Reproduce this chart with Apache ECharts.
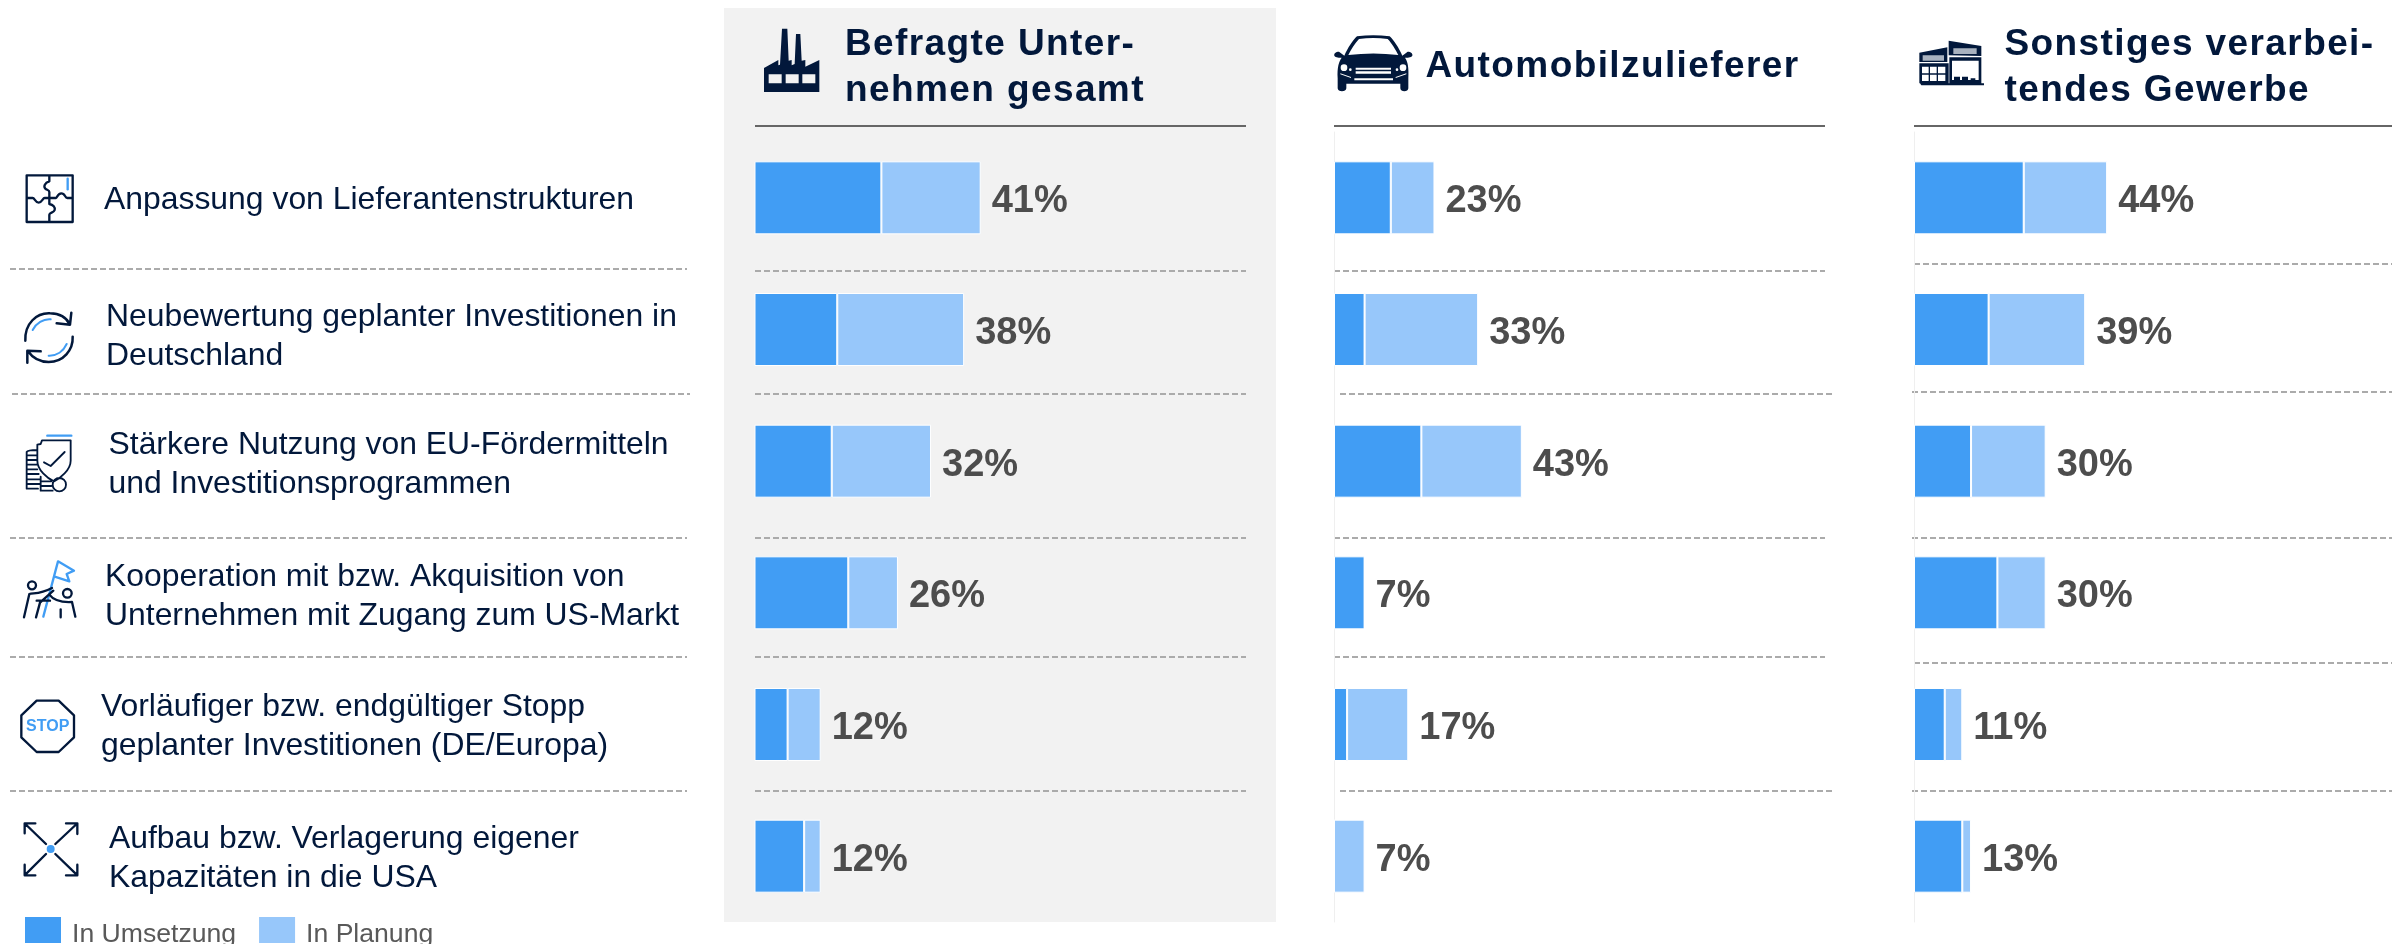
<!DOCTYPE html>
<html lang="de">
<head>
<meta charset="utf-8">
<title>Reaktionen auf US-Zölle</title>
<style>html,body{margin:0;padding:0;background:#fff}#chart{width:2392px;height:944px}</style>
<script src="https://cdn.jsdelivr.net/npm/echarts@6/dist/echarts.min.js"></script>
</head>
<body>
<div id="chart"></div>
<script>
// ---------- data ----------
const categories = [
  'Anpassung von Lieferantenstrukturen',
  'Neubewertung geplanter Investitionen in\nDeutschland',
  'Stärkere Nutzung von EU-Fördermitteln\nund Investitionsprogrammen',
  'Kooperation mit bzw. Akquisition von\nUnternehmen mit Zugang zum US-Markt',
  'Vorläufiger bzw. endgültiger Stopp\ngeplanter Investitionen (DE/Europa)',
  'Aufbau bzw. Verlagerung eigener\nKapazitäten in die USA'
];
const seriesNames = ['In Umsetzung', 'In Planung'];
const groupTitles = ['Befragte Unter-\nnehmen gesamt', 'Automobilzulieferer', 'Sonstiges verarbei-\ntendes Gewerbe'];

const gesamtUmsetzung = [23, 15, 14, 17, 6, 9];
const gesamtPlanung   = [18, 23, 18, 9, 6, 3];
const gesamtTotal     = [41, 38, 32, 26, 12, 12];

const autoUmsetzung = [13, 7, 20, 7, 3, 0];
const autoPlanung   = [10, 26, 23, 0, 14, 7];
const autoTotal     = [23, 33, 43, 7, 17, 7];

const sonstUmsetzung = [25, 17, 13, 19, 7, 11];
const sonstPlanung   = [19, 22, 17, 11, 4, 2];
const sonstTotal     = [44, 39, 30, 30, 11, 13];

// ---------- style and layout ----------
const NAVY = '#02183b', BLUE = '#419df4', LIGHT = '#97c7fa', PANEL = '#f2f2f2', GREY = '#4d4d4d';
const FONT = '"Liberation Sans", Arial, sans-serif';
const TITLE_FONT = 'bold 37px "Liberation Sans"';

// headings in the reference are letter-spaced: canvas supports this, zrender does not expose it
(function () {
  const proto = CanvasRenderingContext2D.prototype, orig = proto.fillText;
  proto.fillText = function (t, x, y, m) {
    if ('letterSpacing' in this) this.letterSpacing = this.font.indexOf('bold 37px') >= 0 ? '1.4px' : '0px';
    return m === undefined ? orig.call(this, t, x, y) : orig.call(this, t, x, y, m);
  };
})();

const columns = [
  { left: 754.5,  width: 491, max: 89.0,  a: gesamtUmsetzung, b: gesamtPlanung, t: gesamtTotal, axisLine: false },
  { left: 1334,   width: 491, max: 112.4, a: autoUmsetzung,  b: autoPlanung,  t: autoTotal,  axisLine: true },
  { left: 1914,   width: 478, max: 108.9, a: sonstUmsetzung, b: sonstPlanung, t: sonstTotal, axisLine: true }
];
const GRID_TOP = 132, GRID_H = 790;

const grid = [], xAxis = [], yAxis = [], series = [];
columns.forEach((c, i) => {
  grid.push({ left: c.left, top: GRID_TOP, width: c.width, height: GRID_H, containLabel: false });
  xAxis.push({ type: 'value', gridIndex: i, min: 0, max: c.max, show: false });
  yAxis.push({
    type: 'category', gridIndex: i, inverse: true, data: categories,
    axisLabel: { show: false }, axisTick: { show: false }, splitLine: { show: false },
    axisLine: { show: c.axisLine, lineStyle: { color: '#efefef', width: 1 } }
  });
  const bar = (name, data, color) => ({
    name, type: 'bar', stack: 's' + i, xAxisIndex: i, yAxisIndex: i, data, barWidth: 73, silent: true,
    itemStyle: { color, borderColor: '#ffffff', borderWidth: 1 }
  });
  series.push(bar(seriesNames[0], c.a, BLUE), bar(seriesNames[1], c.b, LIGHT));
  series.push({
    name: 'Gesamt', type: 'bar', xAxisIndex: i, yAxisIndex: i, data: c.t, barWidth: 73, barGap: '-100%', silent: true,
    itemStyle: { color: 'rgba(0,0,0,0)', borderWidth: 0 },
    label: { show: true, position: 'right', distance: 11, offset: [0, 4], formatter: '{c}%', color: GREY, fontFamily: FONT, fontWeight: 'bold', fontSize: 38 }
  });
});

// ---------- decoration ----------
let shapeNo = 0;
function icon(d, ox, oy, style) {
  const name = 'iconPath' + (shapeNo++);
  echarts.graphic.registerShape(name, echarts.graphic.extendPath(d, {}));
  return { type: name, x: ox, y: oy, scaleX: 1 / 3, scaleY: 1 / 3, silent: true, style };
}
const line = (col = NAVY, w = 7) => ({ stroke: col, lineWidth: w, fill: 'none', lineCap: 'round', lineJoin: 'round' });
const fill = (col = NAVY) => ({ fill: col, stroke: 'none' });

const dashed = (x1, x2, y) => ({
  type: 'line', silent: true, shape: { x1, y1: y, x2, y2: y },
  style: { stroke: '#ababab', lineWidth: 2, lineDash: [6, 3] }
});
const solid = (x1, x2, y) => ({
  type: 'line', silent: true, shape: { x1, y1: y, x2, y2: y }, style: { stroke: '#666666', lineWidth: 2 }
});
const label = (i, x, y) => ({
  type: 'text', x, y, silent: true,
  style: { text: categories[i], font: '31.9px ' + FONT, fill: NAVY, lineHeight: 39, verticalAlign: 'middle', align: 'left' }
});
const heading = (i, x, y) => ({
  type: 'text', x, y, silent: true,
  style: { text: groupTitles[i], font: TITLE_FONT, fill: NAVY, lineHeight: 46, verticalAlign: 'middle', align: 'left' }
});

const graphicEls = [
  { type: 'rect', silent: true, shape: { x: 724, y: 8, width: 552, height: 914 }, style: { fill: PANEL } },

  solid(755, 1246, 126), solid(1334, 1825, 126), solid(1914, 2392, 126),
  heading(0, 845, 68), heading(1, 1425.5, 67), heading(2, 2004.5, 68),

  // separators
  dashed(10, 687, 269), dashed(12, 690, 394), dashed(10, 687, 538), dashed(10, 687, 657), dashed(10, 687, 791),
  dashed(755, 1246, 271), dashed(755, 1246, 394), dashed(755, 1246, 538), dashed(755, 1246, 657), dashed(755, 1246, 791),
  dashed(1334, 1825, 271), dashed(1340, 1832, 394), dashed(1334, 1825, 538), dashed(1334, 1825, 657), dashed(1340, 1832, 791),
  dashed(1914, 2392, 264), dashed(1912, 2392, 392), dashed(1912, 2392, 538), dashed(1914, 2392, 663), dashed(1912, 2392, 791),

  // row labels
  label(0, 104, 200), label(1, 106, 337), label(2, 108.5, 465), label(3, 105, 597), label(4, 101, 727), label(5, 109, 859),

  // puzzle
  icon('M50 46H188V186H50Z M118 46V64C104 68 100 80 106 86C110 90 118 90 118 96V132C130 134 136 142 134 150C132 158 118 158 118 164V186 M118 114H138C142 114 142 100 154 100C166 100 164 114 172 114H188 M50 114H68C74 114 76 128 86 128C96 128 98 114 104 114H118', 10, 160, line()),
  icon('M173 56V88', 10, 160, line(BLUE)),
  // refresh
  icon('M46 542C44 490 80 458 120 460C150 460 170 474 180 494 M184 458L180 494L140 490 M188 530C190 570 160 606 116 606C90 606 68 594 54 574 M52 608L52 572L92 574', 10, 160, line(NAVY, 7.5)),
  icon('M68 510C78 490 100 476 122 478 M116 587C140 588 160 574 170 552', 10, 160, line(BLUE, 6)),
  // shield and coins
  icon('M96 61H182V122C182 150 150 175 132 184C112 175 82 150 82 122V74L92 72Z M102 127L122 138L164 96 M82 90C68 90 52 92 50 96V206H84 M52 106H80 M52 120H80 M52 134H80 M52 148H82 M52 162H86 M52 178H90 M52 192H92 M92 170V212H128 M92 184H124 M92 198H124 M168 194A20 20 0 1 1 128 194A20 20 0 1 1 168 194', 10, 420, line(NAVY, 5.5)),
  icon('M112 47H184', 10, 420, line(BLUE)),
  // people and flag
  icon('M100 590L144 424L192 452L170 462L178 484L134 470', 10, 420, line(BLUE)),
  icon('M78 496A12 12 0 1 1 54 496A12 12 0 1 1 78 496 M185 520A13 13 0 1 1 159 520A13 13 0 1 1 185 520 M42 592L58 522C70 518 88 524 126 504 M78 592L90 548L130 512 M196 590L186 546C150 548 130 540 118 524 M152 592V568 M80 542H120', 10, 420, line()),
  // stop
  icon('M80 32H146L192 76V142L146 186H80L34 142V76Z', 10, 690, line()),
  { type: 'text', x: 47.7, y: 727, silent: true, style: { text: 'STOP', font: 'bold 16px ' + FONT, fill: BLUE, align: 'center', verticalAlign: 'middle' } },
  // arrows
  icon('M44 430V400H76 M46 402L108 462 M168 400H202V432 M200 402L136 462 M44 524V556H76 M46 554L108 492 M168 556H202V524 M200 554L136 492', 10, 690, line()),
  { type: 'circle', silent: true, shape: { cx: 10 + 122 / 3, cy: 690 + 477 / 3, r: 4 }, style: { fill: BLUE } },

  // factory
  icon('M42 216V144L85 120V136L90 134L96 26H112L116 122L125 120V136L134 132L138 42H151L155 122L166 120V140L208 120V216Z', 750, 20, fill()),
  icon('M56 163H95V190H56Z M107 163H146V190H107Z M157 163H196V190H157Z', 750, 20, fill(PANEL)),

  // car
  icon('M96 34C130 30 160 30 194 34C206 44 222 70 232 92L248 80C258 80 264 86 262 92C258 98 246 98 240 98C248 110 252 126 250 160V190C250 202 226 202 226 190V176H64V190C64 202 38 202 38 190V160C36 126 42 110 50 98C44 98 32 98 28 92C26 86 32 80 42 80L58 92C68 70 84 44 96 34Z', 1325, 25, fill()),
  icon('M102 42C130 38 160 38 188 42C200 54 212 74 220 90C170 84 120 84 70 90C78 74 90 54 102 42Z M67 128A10 10 0 1 1 47 128A10 10 0 1 1 67 128 M244 128A10 10 0 1 1 224 128A10 10 0 1 1 244 128 M80 134A4 4 0 1 1 72 134A4 4 0 1 1 80 134 M220 134A4 4 0 1 1 212 134A4 4 0 1 1 220 134 M92 128H198V134H92Z M92 139H198V146H92Z M88 160H204V166H88Z M46 145L78 156L78 159L46 148Z M244 145L212 156L212 159L244 148Z', 1325, 25, fill('#ffffff')),

  // industrial building
  icon('M28 68L112 52V96H28Z M28 100H116V160H28Z M116 32L214 48V78L116 76Z M118 82H214V160H118Z M30 160H222V166H34Z', 1910, 30, fill()),
  icon('M38 76H102V92H38Z M130 55H200V72H130Z', 1910, 30, fill('#a9b2bf')),
  icon('M36 110H56V130H36Z M60 110H80V130H60Z M84 110H106V130H84Z M36 134H56V153H36Z M60 134H80V153H60Z M84 134H106V153H84Z M126 92H206V150H126Z', 1910, 30, fill('#ffffff')),
  icon('M132 140H150V154H132Z M156 140H174V154H156Z M182 145H196V154H182Z', 1910, 30, fill())
];

const chart = echarts.init(document.getElementById('chart'), null, { renderer: 'canvas', width: 2392, height: 944 });
chart.setOption({
  animation: false,
  backgroundColor: '#ffffff',
  textStyle: { fontFamily: FONT },
  graphic: { elements: graphicEls },
  legend: {
    show: true, left: 25, top: 917, padding: 0, orient: 'horizontal', selectedMode: false,
    data: seriesNames, icon: 'rect', itemWidth: 36, itemHeight: 26, itemGap: 23,
    itemStyle: { borderWidth: 0 },
    formatter: name => '{t|' + name + '}',
    textStyle: {
      fontFamily: FONT, fontSize: 26.6, color: '#595959',
      rich: { t: { fontFamily: FONT, fontSize: 26.6, color: '#595959', padding: [9, 0, 0, 6] } }
    }
  },
  grid, xAxis, yAxis, series
});
</script>
</body>
</html>
